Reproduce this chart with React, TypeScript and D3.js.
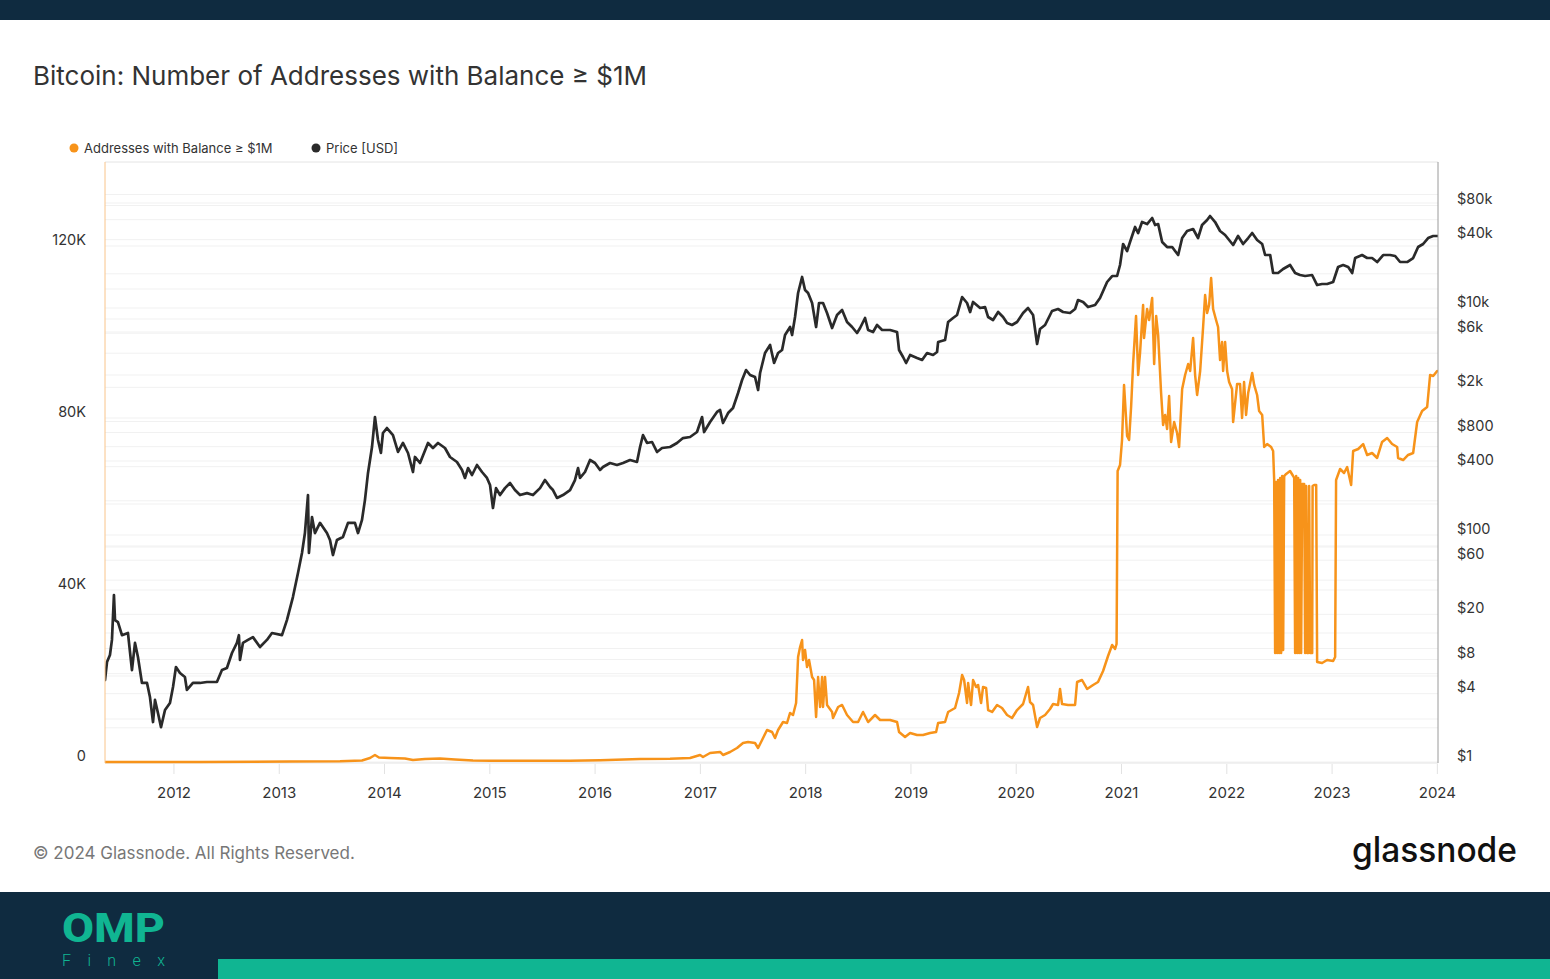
import React from "react";
import * as d3 from "d3";

// ---------- DATA ----------
const TITLE = "Bitcoin: Number of Addresses with Balance ≥ $1M";
const LEGEND = ["Addresses with Balance ≥ $1M", "Price [USD]"];
const yearTicks = [2012, 2013, 2014, 2015, 2016, 2017, 2018, 2019, 2020, 2021, 2022, 2023, 2024];
const addrTicks = [0, 40000, 80000, 120000];
const addrTickLabels = ["0", "40K", "80K", "120K"];
const priceTicks = [1, 4, 8, 20, 60, 100, 400, 800, 2000, 6000, 10000, 40000, 80000];
const priceTickLabels = ["$1", "$4", "$8", "$20", "$60", "$100", "$400", "$800", "$2k", "$6k", "$10k", "$40k", "$80k"];

// [decimal year, USD]
const priceData: [number, number][] = [
  [2011.345, 5.28], [2011.364, 7.6], [2011.392, 8.76], [2011.411, 11.9], [2011.43, 29.6], [2011.44, 17.8],
  [2011.468, 17.1], [2011.506, 13.1], [2011.563, 13.7], [2011.601, 6.46], [2011.63, 11.2], [2011.658, 8.42],
  [2011.696, 4.97], [2011.744, 4.97], [2011.772, 3.74], [2011.801, 2.25], [2011.82, 3.52], [2011.848, 2.7],
  [2011.877, 2.03], [2011.915, 2.87], [2011.962, 3.31], [2011.991, 4.58], [2012.019, 6.87], [2012.057, 6.08],
  [2012.104, 5.61], [2012.123, 4.31], [2012.18, 4.97], [2012.247, 4.97], [2012.313, 5.07], [2012.408, 5.07],
  [2012.456, 6.46], [2012.503, 6.73], [2012.551, 9.13], [2012.598, 11.2], [2012.617, 13.1], [2012.627, 7.92],
  [2012.655, 11.2], [2012.703, 11.9], [2012.75, 12.6], [2012.817, 10.3], [2012.883, 11.9], [2012.931, 13.7],
  [2013.026, 13.1], [2013.073, 17.8], [2013.13, 28.4], [2013.178, 46.3], [2013.216, 69.4], [2013.244, 104],
  [2013.273, 225], [2013.282, 69.4], [2013.311, 144], [2013.339, 104], [2013.387, 128], [2013.453, 104],
  [2013.482, 90.4], [2013.51, 66.6], [2013.548, 90.4], [2013.605, 96], [2013.653, 128], [2013.719, 128],
  [2013.748, 104], [2013.786, 136], [2013.814, 203], [2013.843, 352], [2013.881, 596], [2013.909, 1095],
  [2013.938, 687], [2013.966, 528], [2013.985, 792], [2014.023, 876], [2014.08, 760], [2014.128, 539],
  [2014.175, 647], [2014.223, 528], [2014.27, 359], [2014.289, 487], [2014.337, 431], [2014.413, 647],
  [2014.46, 584], [2014.508, 647], [2014.574, 584], [2014.622, 487], [2014.688, 440], [2014.736, 374],
  [2014.764, 318], [2014.793, 389], [2014.831, 338], [2014.878, 414], [2014.926, 359], [2014.973, 318],
  [2015.002, 276], [2015.03, 173], [2015.059, 259], [2015.097, 225], [2015.144, 259], [2015.192, 287],
  [2015.239, 249], [2015.287, 225], [2015.353, 234], [2015.41, 225], [2015.477, 259], [2015.524, 305],
  [2015.572, 265], [2015.6, 249], [2015.638, 212], [2015.695, 225], [2015.762, 249], [2015.809, 305],
  [2015.838, 389], [2015.857, 318], [2015.904, 359], [2015.952, 458], [2015.999, 431], [2016.047, 374],
  [2016.075, 397], [2016.142, 431], [2016.208, 414], [2016.265, 431], [2016.332, 458], [2016.398, 440],
  [2016.427, 596], [2016.455, 760], [2016.493, 647], [2016.541, 660], [2016.588, 539], [2016.636, 584],
  [2016.712, 596], [2016.778, 647], [2016.835, 715], [2016.902, 730], [2016.968, 808], [2017.016, 1095],
  [2017.035, 808], [2017.092, 990], [2017.158, 1213], [2017.187, 1263], [2017.215, 970], [2017.263, 1188],
  [2017.31, 1315], [2017.358, 1783], [2017.396, 2321], [2017.434, 2842], [2017.472, 2569], [2017.519, 2467],
  [2017.548, 1894], [2017.567, 2675], [2017.614, 4013], [2017.662, 4721], [2017.7, 3277], [2017.738, 4013],
  [2017.776, 4266], [2017.804, 5782], [2017.852, 6801], [2017.871, 5782], [2017.899, 8329], [2017.928, 13560],
  [2017.966, 18760], [2017.994, 14410], [2018.023, 13560], [2018.061, 11070], [2018.099, 6801], [2018.127, 11070],
  [2018.165, 11070], [2018.203, 9035], [2018.251, 6664], [2018.298, 8676], [2018.346, 9603], [2018.393, 7527],
  [2018.441, 6801], [2018.488, 6023], [2018.517, 6664], [2018.564, 8164], [2018.593, 6401], [2018.64, 6145],
  [2018.678, 7083], [2018.726, 6401], [2018.802, 6401], [2018.868, 6145], [2018.887, 4266], [2018.925, 3701],
  [2018.954, 3277], [2018.992, 3854], [2019.058, 3627], [2019.106, 3483], [2019.153, 4013], [2019.21, 3854],
  [2019.248, 4096], [2019.258, 5016], [2019.324, 5225], [2019.353, 7527], [2019.4, 8164], [2019.438, 8676],
  [2019.486, 12500], [2019.533, 11070], [2019.562, 9222], [2019.59, 11300], [2019.657, 10000], [2019.704, 10200],
  [2019.733, 8329], [2019.78, 7840], [2019.828, 9222], [2019.875, 8329], [2019.913, 7375], [2019.96, 7083],
  [2020.008, 7527], [2020.065, 9035], [2020.112, 10000], [2020.16, 8676], [2020.198, 4818], [2020.226, 6531],
  [2020.274, 7083], [2020.34, 9410], [2020.397, 9800], [2020.445, 9222], [2020.511, 9035], [2020.559, 9800],
  [2020.587, 11760], [2020.635, 11300], [2020.682, 10200], [2020.749, 10630], [2020.796, 12250], [2020.863, 16950],
  [2020.911, 19140], [2020.958, 19140], [2020.986, 23920], [2021.015, 36640], [2021.053, 31790], [2021.081, 38150],
  [2021.129, 51720], [2021.158, 45790], [2021.195, 57240], [2021.243, 54960], [2021.291, 62090], [2021.319, 53860],
  [2021.348, 54960], [2021.386, 38150], [2021.433, 34460], [2021.481, 34460], [2021.509, 31790], [2021.538, 29310],
  [2021.576, 41370], [2021.623, 47690], [2021.68, 49660], [2021.727, 41370], [2021.765, 53860], [2021.813, 59620],
  [2021.841, 64660], [2021.889, 57240], [2021.936, 47690], [2021.984, 43980], [2022.06, 35900], [2022.107, 43100],
  [2022.155, 36640], [2022.203, 41370], [2022.241, 45790], [2022.288, 39720], [2022.336, 36640], [2022.364, 29310],
  [2022.412, 29310], [2022.44, 20340], [2022.487, 20340], [2022.535, 22060], [2022.601, 23920], [2022.649, 20340],
  [2022.696, 19530], [2022.744, 19140], [2022.81, 19530], [2022.858, 15940], [2022.905, 16280], [2022.953, 16280],
  [2023.01, 16950], [2023.057, 22980], [2023.105, 23920], [2023.153, 22980], [2023.191, 20340], [2023.219, 27570],
  [2023.285, 29310], [2023.333, 27570], [2023.38, 27570], [2023.428, 25430], [2023.485, 29310], [2023.551, 29310],
  [2023.599, 28720], [2023.646, 25430], [2023.713, 25430], [2023.77, 27570], [2023.817, 34460], [2023.865, 36640],
  [2023.912, 41370], [2023.96, 43100], [2023.998, 43100],
];

// [decimal year, number of addresses]
const addressData: [number, number][] = [
  [2011.345, 0], [2012.247, 25], [2013.102, 120], [2013.577, 160], [2013.786, 350], [2013.862, 930],
  [2013.909, 1630], [2013.947, 1050], [2014.052, 930], [2014.194, 810], [2014.27, 470], [2014.384, 700],
  [2014.527, 810], [2014.669, 580], [2014.84, 350], [2015.002, 280], [2015.382, 280], [2015.762, 280],
  [2016.047, 400], [2016.427, 700], [2016.712, 740], [2016.902, 930], [2016.997, 1630], [2017.025, 1160],
  [2017.092, 2090], [2017.187, 2330], [2017.215, 1630], [2017.282, 2330], [2017.348, 3260], [2017.405, 4420],
  [2017.453, 4650], [2017.519, 4420], [2017.548, 3260], [2017.586, 5120], [2017.633, 7440], [2017.681, 6980],
  [2017.709, 5580], [2017.738, 7440], [2017.785, 9300], [2017.823, 9070], [2017.852, 11400], [2017.88, 10930],
  [2017.909, 13720], [2017.928, 24420], [2017.947, 26740], [2017.966, 28370], [2017.975, 23720], [2017.994, 26050],
  [2018.013, 22090], [2018.032, 23720], [2018.061, 19770], [2018.08, 19070], [2018.099, 10470], [2018.118, 19770],
  [2018.137, 12790], [2018.156, 19770], [2018.165, 12790], [2018.184, 19770], [2018.203, 13260], [2018.251, 11630],
  [2018.26, 10230], [2018.308, 12790], [2018.346, 13260], [2018.393, 10930], [2018.45, 9300], [2018.498, 9300],
  [2018.545, 11630], [2018.593, 9300], [2018.659, 10930], [2018.707, 9770], [2018.802, 9770], [2018.868, 9300],
  [2018.887, 6980], [2018.944, 5810], [2018.992, 6740], [2019.058, 6280], [2019.115, 6280], [2019.182, 6740],
  [2019.239, 6980], [2019.258, 9070], [2019.324, 9300], [2019.353, 11630], [2019.419, 12560], [2019.457, 16050],
  [2019.486, 20230], [2019.505, 19070], [2019.533, 13720], [2019.543, 18370], [2019.571, 13260], [2019.59, 19070],
  [2019.619, 17440], [2019.638, 17910], [2019.666, 13720], [2019.685, 17440], [2019.714, 17210], [2019.733, 12090],
  [2019.771, 11630], [2019.818, 13260], [2019.865, 12560], [2019.913, 10930], [2019.96, 10230], [2020.008, 12090],
  [2020.065, 13490], [2020.112, 17440], [2020.131, 13950], [2020.16, 13260], [2020.198, 8140], [2020.226, 10230],
  [2020.274, 10930], [2020.321, 12330], [2020.35, 13490], [2020.397, 13260], [2020.416, 16980], [2020.435, 13490],
  [2020.492, 13260], [2020.559, 13260], [2020.578, 18600], [2020.625, 19070], [2020.673, 16980], [2020.73, 17910],
  [2020.777, 18600], [2020.825, 21160], [2020.872, 24650], [2020.911, 27210], [2020.939, 26280], [2020.953, 27440],
  [2020.963, 67670], [2020.986, 69070], [2021.005, 74880], [2021.024, 87680], [2021.043, 80000], [2021.053, 75810],
  [2021.072, 74880], [2021.091, 82560], [2021.11, 92560], [2021.138, 103720], [2021.158, 90000], [2021.176, 95120],
  [2021.205, 106280], [2021.214, 98600], [2021.243, 105350], [2021.262, 102790], [2021.291, 107910], [2021.31, 92560],
  [2021.329, 103720], [2021.348, 99300], [2021.376, 85810], [2021.395, 78370], [2021.414, 80700], [2021.433, 77440],
  [2021.452, 85120], [2021.471, 74420], [2021.5, 79070], [2021.528, 76510], [2021.547, 73260], [2021.576, 86740],
  [2021.604, 90000], [2021.633, 92560], [2021.652, 90930], [2021.68, 98600], [2021.699, 90000], [2021.718, 85350],
  [2021.747, 90930], [2021.775, 101160], [2021.794, 108600], [2021.813, 104420], [2021.832, 106280], [2021.851, 112560],
  [2021.87, 105350], [2021.898, 102790], [2021.917, 101160], [2021.936, 93490], [2021.955, 97670], [2021.965, 90930],
  [2021.984, 97670], [2022.003, 90930], [2022.022, 88370], [2022.05, 86740], [2022.06, 79070], [2022.098, 87910],
  [2022.126, 87910], [2022.145, 80000], [2022.164, 88370], [2022.183, 80700], [2022.203, 85810], [2022.241, 90470],
  [2022.26, 87680], [2022.288, 85350], [2022.307, 81630], [2022.336, 80700], [2022.355, 73260], [2022.383, 73950],
  [2022.421, 73260], [2022.44, 72330], [2022.45, 65580], [2022.459, 25350], [2022.468, 65120], [2022.478, 25350],
  [2022.487, 65580], [2022.497, 25350], [2022.507, 66050], [2022.516, 25350], [2022.526, 66510], [2022.535, 26050],
  [2022.545, 66510], [2022.564, 66980], [2022.601, 67670], [2022.63, 66510], [2022.64, 66050], [2022.649, 25350],
  [2022.659, 66510], [2022.668, 25350], [2022.678, 66050], [2022.687, 25350], [2022.697, 65580], [2022.706, 25350],
  [2022.716, 64650], [2022.735, 64650], [2022.744, 25350], [2022.754, 64190], [2022.763, 25350], [2022.773, 25350],
  [2022.782, 64190], [2022.792, 25350], [2022.811, 25350], [2022.815, 64190], [2022.83, 64420], [2022.849, 64420],
  [2022.858, 23260], [2022.905, 23020], [2022.953, 23720], [2023.01, 23490], [2023.029, 24420], [2023.038, 65580],
  [2023.076, 68140], [2023.114, 67210], [2023.143, 68600], [2023.181, 64420], [2023.2, 72330], [2023.248, 72790],
  [2023.295, 73950], [2023.333, 71400], [2023.38, 71860], [2023.428, 70700], [2023.475, 74420], [2023.523, 75350],
  [2023.57, 73950], [2023.618, 73260], [2023.627, 70700], [2023.675, 70230], [2023.722, 71400], [2023.77, 71860],
  [2023.808, 79070], [2023.855, 81630], [2023.903, 82560], [2023.931, 90000], [2023.96, 89770], [2023.998, 90930],
];

// ---------- LAYOUT ----------
const W = 1550;
const H = 979;
const L = 105, R = 1438, T = 162, B = 762;
const FONT = "Inter, 'Open Sans', Roboto, sans-serif";
const ORANGE = "#f7931a";
const DARK = "#2a2a2a";
const NAVY = "#0f2b40";
const TEAL = "#10b592";

export default function App() {
  const x = d3.scaleLinear().domain([2011.345, 2024.006]).range([L, R]);
  const yA = d3.scaleLinear().domain([0, 139535]).range([B, T]);
  const yP = d3.scaleLog().domain([1, 193400]).range([B, T]);

  const addrLine = d3.line<[number, number]>().x((d) => x(d[0])).y((d) => yA(d[1]));
  const priceLine = d3.line<[number, number]>().x((d) => x(d[0])).y((d) => yP(d[1]));

  const logGrid: number[] = [];
  for (let e = 0; e <= 5; e++) {
    for (const m of [1, 2, 4, 6, 8]) {
      const v = m * Math.pow(10, e);
      if (v <= 193400) logGrid.push(v);
    }
  }
  const linGrid = d3.range(10000, 140000, 10000);

  return (
    <svg width={W} height={H} style={{ position: "absolute", left: 0, top: 0, background: "#fff" }} fontFamily={FONT}>
      <defs>
        <clipPath id="plotClip">
          <rect x={L} y={T - 2} width={R - L} height={B - T + 4} />
        </clipPath>
      </defs>
      <rect x={0} y={0} width={W} height={H} fill="#fff" />
      {/* top bar */}
      <rect x={0} y={0} width={W} height={20} fill={NAVY} />

      {/* title */}
      <text x={33} y={85} fontSize={26} fill="#333" fontWeight={400}>{TITLE}</text>

      {/* legend */}
      <circle cx={74} cy={148} r={4.5} fill={ORANGE} />
      <text x={84} y={153} fontSize={13} fill="#333">{LEGEND[0]}</text>
      <circle cx={316} cy={148} r={4.5} fill={DARK} />
      <text x={326} y={153} fontSize={13} fill="#333">{LEGEND[1]}</text>

      {/* gridlines */}
      <g stroke="#f1f1f1" strokeWidth={1}>
        {logGrid.map((v) => (
          <line key={"lg" + v} x1={L} x2={R} y1={yP(v)} y2={yP(v)} />
        ))}
        {linGrid.map((v) => (
          <line key={"ag" + v} x1={L} x2={R} y1={yA(v)} y2={yA(v)} />
        ))}
      </g>
      <line x1={L} x2={R} y1={T} y2={T} stroke="#e4e4e4" />
      <line x1={L} x2={R} y1={B + 1} y2={B + 1} stroke="#e4e4e4" />

      {/* x ticks */}
      <g>
        {yearTicks.map((yr) => (
          <g key={yr}>
            <line x1={x(yr)} x2={x(yr)} y1={B + 2} y2={B + 12} stroke="#e2e2e2" />
            <text x={x(yr)} y={792} fontSize={15} fill="#333" textAnchor="middle" dominantBaseline="central">{yr}</text>
          </g>
        ))}
      </g>

      {/* left axis labels */}
      {addrTicks.map((v, i) => (
        <text key={"a" + v} x={86} y={yA(v) - 7} fontSize={14.5} fill="#333" textAnchor="end" dominantBaseline="central">
          {addrTickLabels[i]}
        </text>
      ))}
      {/* right axis labels */}
      {priceTicks.map((v, i) => (
        <text key={"p" + v} x={1457} y={yP(v) - 7} fontSize={14.5} fill="#333" textAnchor="start" dominantBaseline="central">
          {priceTickLabels[i]}
        </text>
      ))}

      {/* series */}
      <g clipPath="url(#plotClip)" fill="none" strokeLinejoin="round" strokeLinecap="round">
        <path d={priceLine(priceData) || ""} stroke={DARK} strokeWidth={2.7} />
        <path d={addrLine(addressData) || ""} stroke={ORANGE} strokeWidth={2.5} />
      </g>

      {/* axis lines */}
      <line x1={L} x2={L} y1={T} y2={B + 1} stroke="#f9c48a" strokeWidth={1} />
      <line x1={R} x2={R} y1={T} y2={B + 1} stroke="#9a9a9a" strokeWidth={1} />

      {/* footer */}
      <text x={33} y={859} fontSize={17} fill="#777">© 2024 Glassnode. All Rights Reserved.</text>
      <text x={1352} y={862} fontSize={35} fill="#111" fontWeight={500} textLength={165} lengthAdjust="spacingAndGlyphs">glassnode</text>

      {/* bottom banner */}
      <rect x={0} y={892} width={W} height={H - 892} fill={NAVY} />
      <rect x={218} y={959} width={W - 218} height={H - 959} fill={TEAL} />
      <text x={62} y={942} fontSize={40} fontWeight={800} fill={TEAL} fontFamily="Roboto, Inter, sans-serif" textLength={103} lengthAdjust="spacingAndGlyphs">OMP</text>
      <text x={62} y={966} fontSize={16} fontWeight={300} fill={TEAL} fontFamily="Roboto, Inter, sans-serif" textLength={103} lengthAdjust="spacing">Finex</text>
    </svg>
  );
}
